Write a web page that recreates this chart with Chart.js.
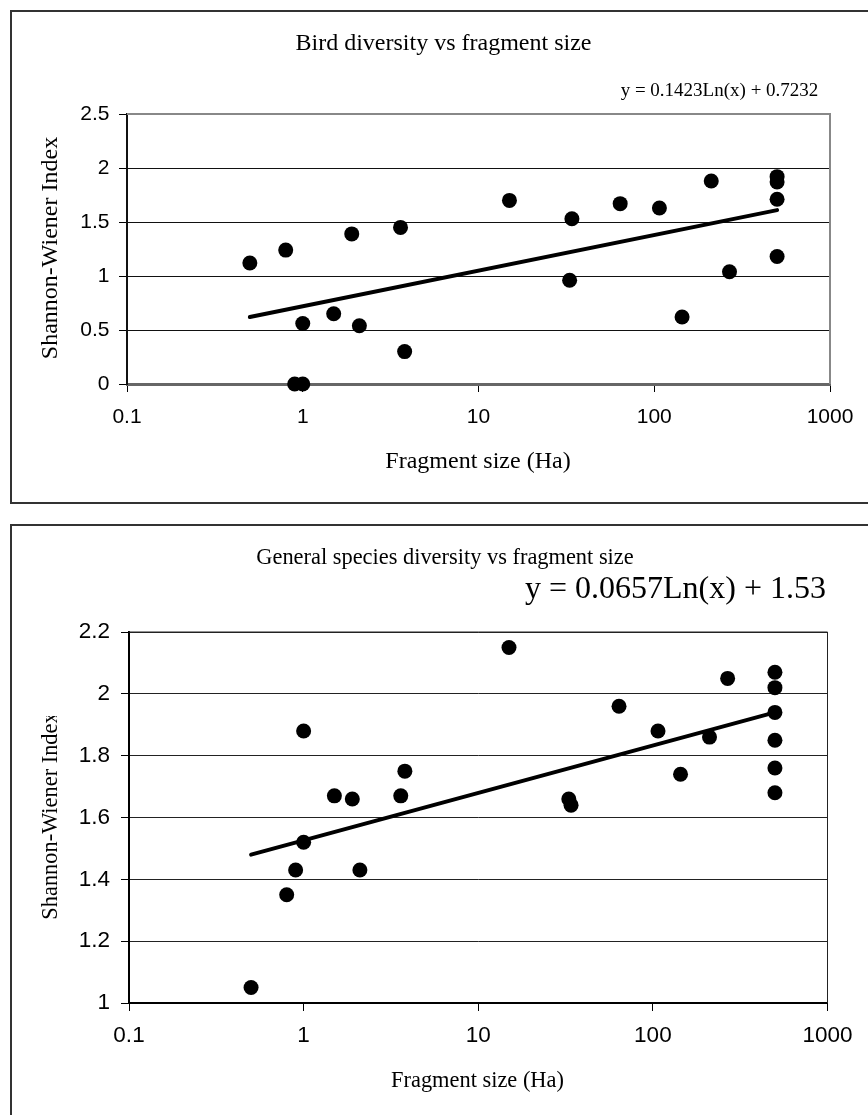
<!DOCTYPE html>
<html>
<head>
<meta charset="utf-8">
<script src="https://cdn.jsdelivr.net/npm/chart.js@4.4.1/dist/chart.umd.min.js"></script>
<style>
  html, body { margin: 0; padding: 0; background: #fff; overflow: hidden; width: 868px; height: 1115px; }
  .box { position: absolute; border: 2px solid #333; box-sizing: border-box; }
  canvas { position: absolute; left: 0; }
</style>
</head>
<body>
<div class="box" style="left:10px; top:10px; width:900px; height:494px;"></div>
<div class="box" style="left:10px; top:524px; width:900px; height:640px;"></div>
<canvas id="birdChart" width="868" height="515" style="top:0px; width:868px; height:515px;"></canvas>
<canvas id="generalChart" width="868" height="600" style="top:515px; width:868px; height:600px;"></canvas>
<script>
// ---- data ----
const birdSize  = [0.5, 0.8, 0.9, 1, 1, 1.5, 1.9, 2.1, 3.6, 3.8, 15, 33, 34, 64, 107, 144, 211, 268, 500, 500, 500, 500];
const birdIndex = [1.12, 1.24, 0, 0, 0.56, 0.65, 1.39, 0.54, 1.45, 0.30, 1.70, 0.96, 1.53, 1.67, 1.63, 0.62, 1.88, 1.04, 1.92, 1.87, 1.71, 1.18];

const generalSize  = [0.5, 0.8, 0.9, 1, 1, 1.5, 1.9, 2.1, 3.6, 3.8, 15, 33, 34, 64, 107, 144, 211, 268, 500, 500, 500, 500, 500, 500];
const generalIndex = [1.05, 1.35, 1.43, 1.52, 1.88, 1.67, 1.66, 1.43, 1.67, 1.75, 2.15, 1.66, 1.64, 1.96, 1.88, 1.74, 1.86, 2.05, 2.07, 2.02, 1.94, 1.85, 1.76, 1.68];

const trendSize    = [0.5, 500];
const birdTrend    = [0.62, 1.61];
const generalTrend = [1.48, 1.94];

const xTickValues   = [0.1, 1, 10, 100, 1000];
const birdYTicks    = [0, 0.5, 1, 1.5, 2, 2.5];
const generalYTicks = [1, 1.2, 1.4, 1.6, 1.8, 2, 2.2];

const birdTitle     = 'Bird diversity vs fragment size';
const birdEquation  = 'y = 0.1423Ln(x) + 0.7232';
const generalTitle    = 'General species diversity vs fragment size';
const generalEquation = 'y = 0.0657Ln(x) + 1.53';
const xAxisTitle = 'Fragment size (Ha)';
const yAxisTitle = 'Shannon-Wiener Index';

const SERIF = '"Liberation Serif", "Times New Roman", serif';
const SANS  = '"Liberation Sans", Arial, sans-serif';

function makeChart(canvasId, cfg) {
  const decor = {
    id: 'decor',
    beforeDatasetsDraw(chart) {
      const ctx = chart.ctx, a = chart.chartArea;
      ctx.save();
      ctx.strokeStyle = cfg.frameColor;
      ctx.lineWidth = cfg.frameWidth;
      ctx.beginPath();
      ctx.moveTo(a.left, a.top);
      ctx.lineTo(a.right, a.top);
      ctx.lineTo(a.right, a.bottom);
      ctx.stroke();
      ctx.restore();
    },
    afterDraw(chart) {
      const ctx = chart.ctx;
      ctx.save();
      ctx.fillStyle = '#000';
      ctx.textAlign = 'center';
      ctx.textBaseline = 'alphabetic';
      ctx.font = cfg.titleSize + 'px ' + SERIF;
      ctx.fillText(cfg.title, cfg.titleX, cfg.titleY);
      ctx.font = cfg.eqSize + 'px ' + SERIF;
      ctx.fillText(cfg.equation, cfg.eqX, cfg.eqY);
      ctx.font = cfg.axisTitleSize + 'px ' + SERIF;
      ctx.fillText(xAxisTitle, cfg.xTitleX, cfg.xTitleY);
      ctx.save();
      if (cfg.yTitleClipTop !== undefined) {
        ctx.beginPath();
        ctx.rect(0, cfg.yTitleClipTop, chart.width, chart.height - cfg.yTitleClipTop);
        ctx.clip();
      }
      ctx.translate(cfg.yTitleX, cfg.yTitleY);
      ctx.rotate(-Math.PI / 2);
      ctx.textBaseline = 'middle';
      ctx.fillText(yAxisTitle, 0, 0);
      ctx.restore();
      ctx.restore();
    }
  };

  return new Chart(document.getElementById(canvasId), {
    type: 'scatter',
    data: {
      datasets: [
        {
          type: 'line',
          data: trendSize.map((x, i) => ({ x: x, y: cfg.trend[i] })),
          borderColor: '#000',
          borderWidth: 4,
          borderCapStyle: 'round',
          pointRadius: 0,
          fill: false,
          tension: 0,
          clip: false
        },
        {
          data: cfg.xs.map((x, i) => ({ x: x, y: cfg.ys[i] })),
          backgroundColor: '#000',
          borderColor: '#000',
          borderWidth: 0,
          pointRadius: 7.5,
          pointHoverRadius: 7.5,
          clip: false
        }
      ]
    },
    options: {
      responsive: false,
      animation: false,
      events: [],
      layout: { padding: { left: 0, right: cfg.padRight, top: cfg.padTop, bottom: 0 } },
      plugins: { legend: { display: false }, tooltip: { enabled: false }, title: { display: false } },
      scales: {
        x: {
          type: 'logarithmic',
          min: 0.1,
          max: 1000,
          afterBuildTicks: s => { s.ticks = xTickValues.map(v => ({ value: v })); },
          afterFit: s => { s.height = cfg.xHeight; },
          ticks: {
            callback: v => String(v),
            font: { family: SANS, size: cfg.tickSize },
            color: '#000',
            padding: cfg.xPad,
            autoSkip: false,
            maxRotation: 0,
            minRotation: 0
          },
          grid: { drawOnChartArea: false, drawTicks: true, tickLength: 8, color: '#000', tickColor: '#000', lineWidth: 1 },
          border: { display: true, color: cfg.xBorderColor, width: cfg.xBorderWidth }
        },
        y: {
          type: 'linear',
          min: cfg.yTicks[0],
          max: cfg.yTicks[cfg.yTicks.length - 1],
          afterBuildTicks: s => { s.ticks = cfg.yTicks.map(v => ({ value: v })); },
          afterFit: s => { s.width = cfg.yWidth; },
          ticks: {
            callback: v => String(v),
            font: { family: SANS, size: cfg.tickSize },
            color: '#000',
            padding: cfg.yPad
          },
          grid: { drawOnChartArea: true, drawTicks: true, tickLength: 8, color: cfg.gridColor, tickColor: '#000', lineWidth: 1 },
          border: { display: true, color: cfg.yBorderColor, width: cfg.yBorderWidth }
        }
      }
    },
    plugins: [decor]
  });
}

makeChart('birdChart', {
  xs: birdSize, ys: birdIndex, trend: birdTrend, yTicks: birdYTicks,
  title: birdTitle, equation: birdEquation,
  padTop: 114, padRight: 38, yWidth: 127, xHeight: 131,
  tickSize: 21, xPad: 12.9, yPad: 9.5,
  gridColor: '#111', frameColor: '#888', frameWidth: 2,
  xBorderColor: '#666', xBorderWidth: 3, yBorderColor: '#111', yBorderWidth: 2,
  titleSize: 24, titleX: 443.5, titleY: 50,
  eqSize: 19, eqX: 719.5, eqY: 96,
  axisTitleSize: 24, xTitleX: 478, xTitleY: 468,
  yTitleX: 51, yTitleY: 248
});

makeChart('generalChart', {
  xs: generalSize, ys: generalIndex, trend: generalTrend, yTicks: generalYTicks,
  title: generalTitle, equation: generalEquation,
  padTop: 117, padRight: 40.5, yWidth: 129, xHeight: 112,
  tickSize: 22.5, xPad: 11, yPad: 11,
  gridColor: '#222', frameColor: '#222', frameWidth: 1,
  xBorderColor: '#000', xBorderWidth: 2, yBorderColor: '#000', yBorderWidth: 2,
  titleSize: 22.4, titleX: 445, titleY: 49,
  eqSize: 32, eqX: 675.5, eqY: 83,
  axisTitleSize: 22.4, xTitleX: 477.5, xTitleY: 572,
  yTitleX: 51, yTitleY: 301, yTitleClipTop: 201
});
</script>
</body>
</html>
